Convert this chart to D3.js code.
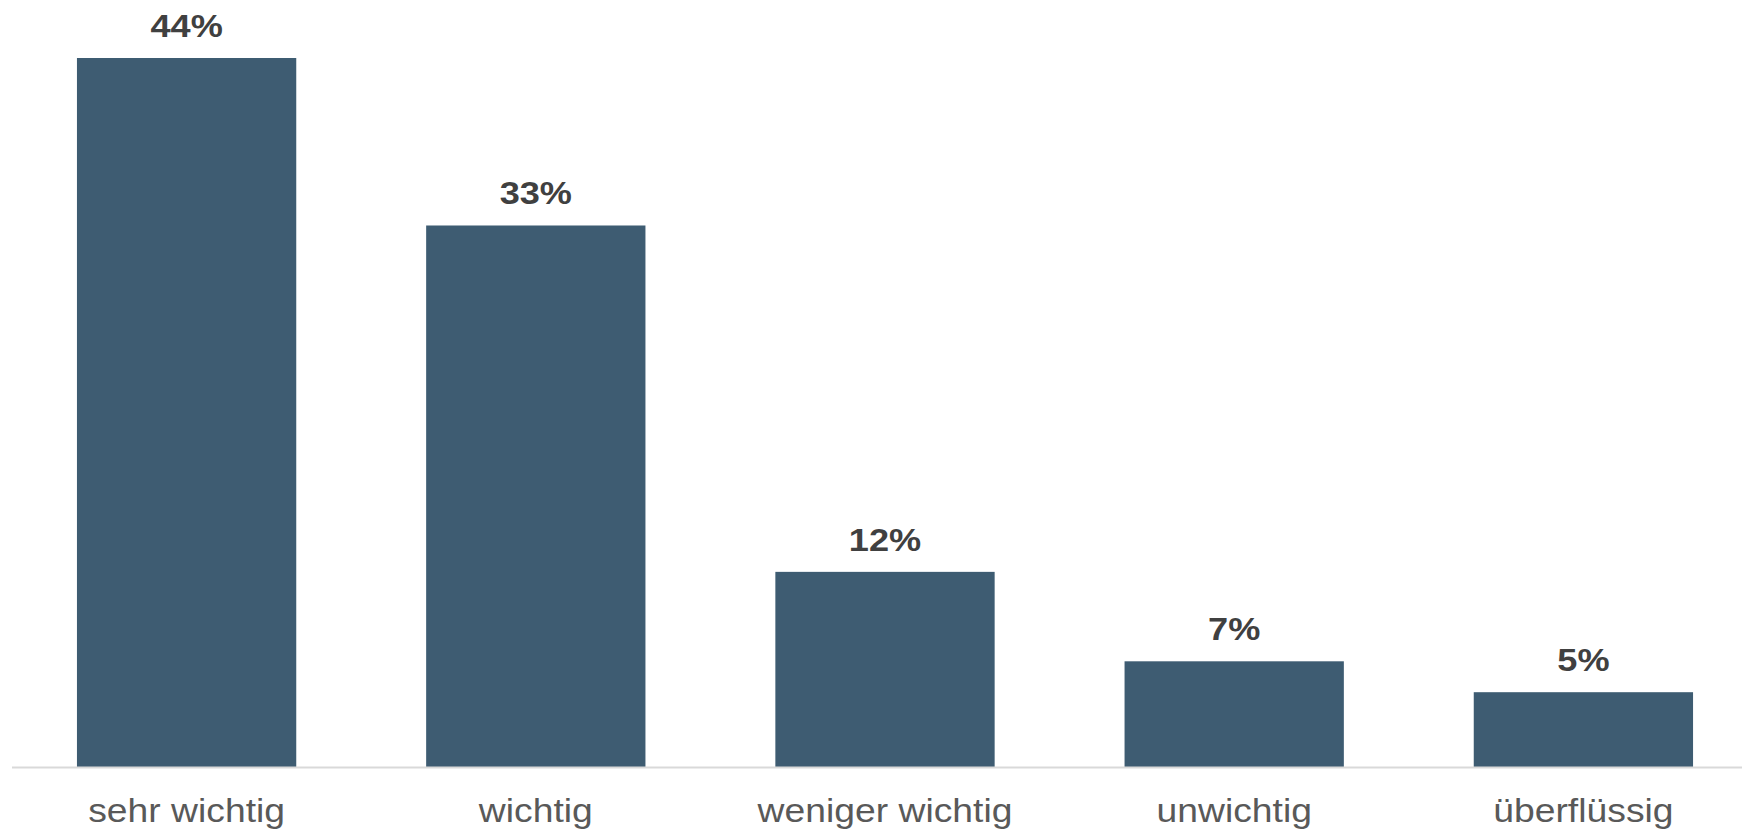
<!DOCTYPE html>
<html>
<head>
<meta charset="utf-8">
<script src="https://cdn.jsdelivr.net/npm/d3@7"></script>
<style>
  html, body { margin: 0; padding: 0; background: #fff; }
  svg { display: block; }
</style>
</head>
<body>
<svg id="chart"></svg>
<script>
const categories = ["sehr wichtig", "wichtig", "weniger wichtig", "unwichtig", "überflüssig"]
const shares = [43.6, 33.3, 12.0, 6.5, 4.6]
const shareLabels = ["44%", "33%", "12%", "7%", "5%"]

const W = 1742, H = 831
const baseline = 767
const BAR_COLOR = "#3e5c72"
// the original text is a bit wider than Liberation Sans
const TEXT_STRETCH = 1.13

const svg = d3.select("#chart")
    .attr("width", W)
    .attr("height", H)

const data = categories.map((c, i) => ({cat: c, value: shares[i], label: shareLabels[i]}))

const x = d3.scaleBand()
    .domain(categories)
    .range([12, 1758])
    .paddingInner(0.372)
    .paddingOuter(0.186)

const y = d3.scaleLinear()
    .domain([0, 43.6])
    .range([baseline, 58])

// bars
svg.selectAll(".bar")
    .data(data)
    .join("rect")
    .attr("class", "bar")
    .attr("x", d => x(d.cat))
    .attr("y", d => y(d.value))
    .attr("width", x.bandwidth())
    .attr("height", d => baseline - y(d.value))
    .attr("fill", BAR_COLOR)

// axis, only used for tick placement
const xAxis = d3.axisBottom(x).tickSize(0).tickPadding(0)
const axisGroup = svg.append("g")
    .attr("transform", `translate(0,${baseline})`)
    .call(xAxis)
axisGroup.select(".domain").remove()
axisGroup.selectAll("text").remove()

svg.append("line")
    .attr("x1", 12)
    .attr("x2", W)
    .attr("y1", baseline + 0.5)
    .attr("y2", baseline + 0.5)
    .attr("stroke", "#d9d9d9")
    .attr("stroke-width", 2)

// category labels
axisGroup.selectAll(".tick")
    .append("text")
    .attr("transform", `translate(0,55) scale(${TEXT_STRETCH},1)`)
    .attr("text-anchor", "middle")
    .attr("fill", "#595959")
    .style("font-family", "'Liberation Sans', Arial, sans-serif")
    .style("font-size", "33px")
    .text(d => d)

// value labels
svg.selectAll(".valueLabel")
    .data(data)
    .join("text")
    .attr("class", "valueLabel")
    .attr("transform", d => `translate(${x(d.cat) + x.bandwidth() / 2},${y(d.value) - 21}) scale(${TEXT_STRETCH},1)`)
    .attr("text-anchor", "middle")
    .attr("fill", "#404040")
    .style("font-family", "'Liberation Sans', Arial, sans-serif")
    .style("font-size", "32px")
    .style("font-weight", "bold")
    .text(d => d.label)
</script>
</body>
</html>
